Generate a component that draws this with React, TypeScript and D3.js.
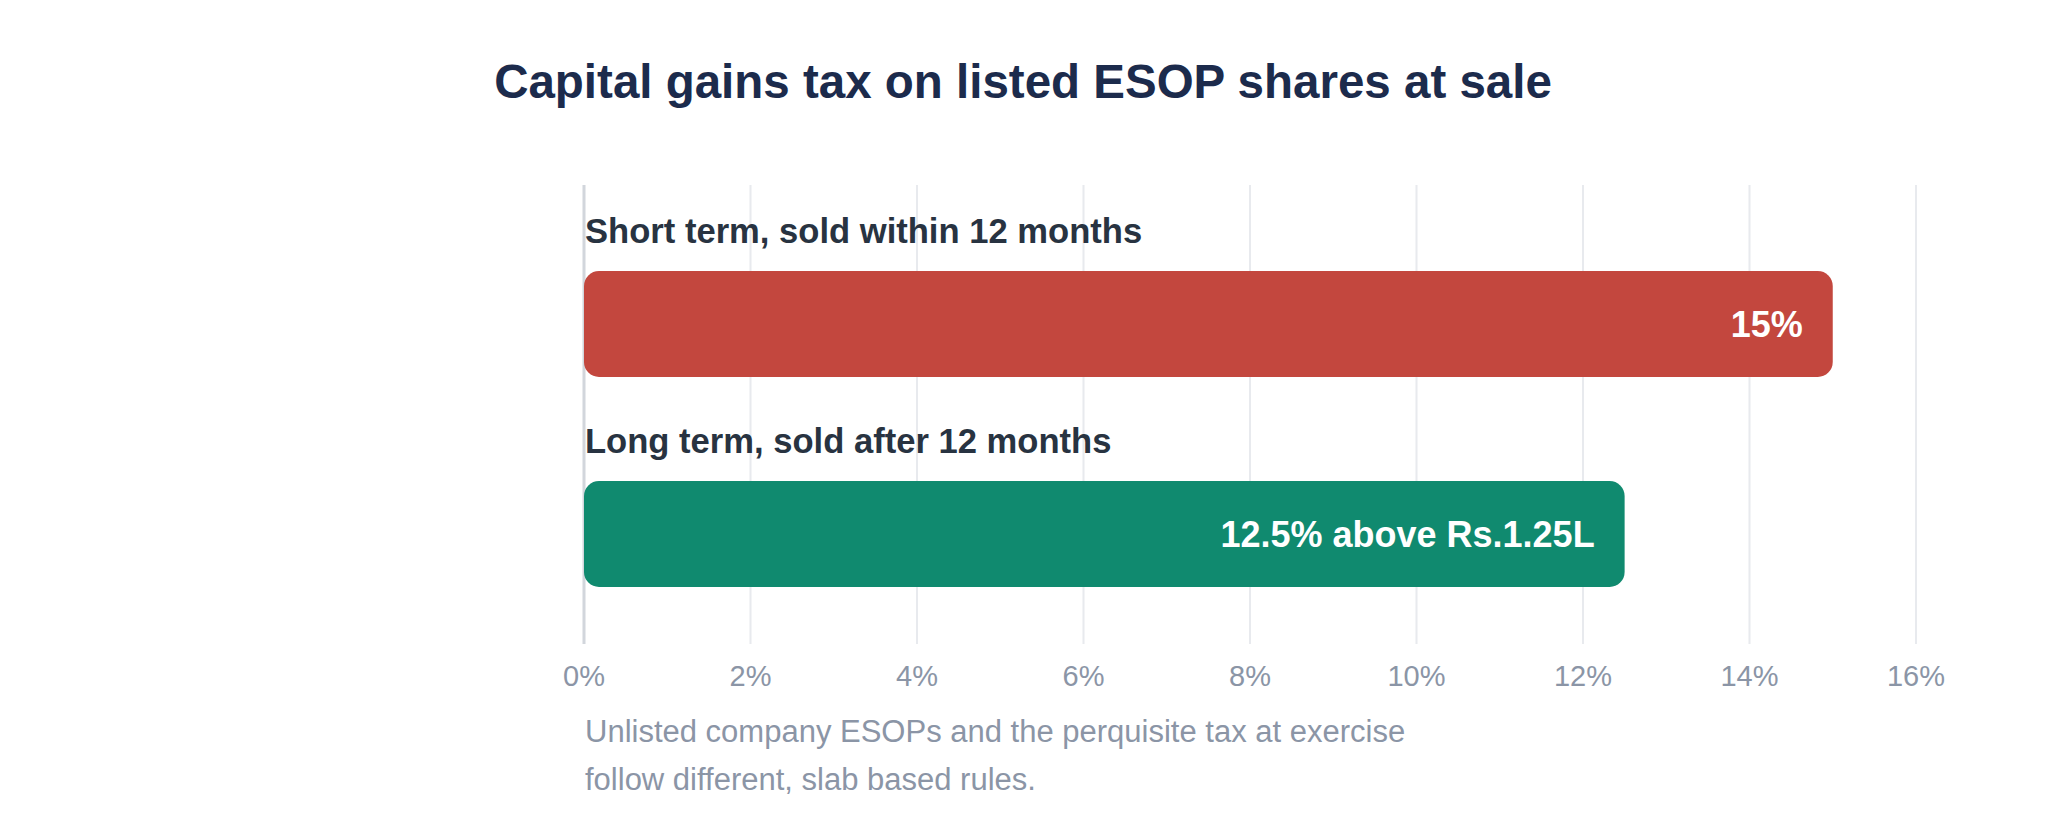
import React from "react";
import * as d3 from "d3";

const title = "Capital gains tax on listed ESOP shares at sale";
const categories = ["Short term, sold within 12 months", "Long term, sold after 12 months"];
const values = [15, 12.5];
const barLabels = ["15%", "12.5% above Rs.1.25L"];
const barColors = ["#c3473e", "#108a6f"];
const axisMax = 16;
const footnoteLines = [
  "Unlisted company ESOPs and the perquisite tax at exercise",
  "follow different, slab based rules.",
];

const W = 2045;
const H = 840;
const FONT = "'Liberation Sans', Arial, Helvetica, sans-serif";

export default function App() {
  const x = d3.scaleLinear().domain([0, axisMax]).range([584, 1916]);
  const y = d3.scaleBand<string>().domain(categories).range([200, 620]).paddingInner(0).paddingOuter(0);
  const ticks = x.ticks(8);
  const barTopOffset = 71;
  const barH = 106;
  const gridTop = 185;
  const gridBottom = 644;

  return (
    <svg
      width={W}
      height={H}
      viewBox={`0 0 ${W} ${H}`}
      style={{ position: "absolute", left: 0, top: 0, display: "block", background: "#ffffff" }}
      fontFamily={FONT}
    >
      <rect x={0} y={0} width={W} height={H} fill="#ffffff" />
      <text x={1023} y={98} textAnchor="middle" fontSize={47.5} fontWeight={700} fill="#1c2b4c">
        {title}
      </text>

      {ticks.map((t) => (
        <line
          key={"g" + t}
          x1={x(t)}
          x2={x(t)}
          y1={gridTop}
          y2={gridBottom}
          stroke={t === 0 ? "#d2d6dc" : "#e8eaee"}
          strokeWidth={t === 0 ? 3 : 2}
        />
      ))}

      {categories.map((c, i) => {
        const top = (y(c) as number) + barTopOffset;
        const x0 = x(0);
        const x1 = x(values[i]);
        return (
          <g key={c}>
            <text x={x0 + 1} y={(y(c) as number) + 43} fontSize={34.6} fontWeight={700} fill="#283341">
              {c}
            </text>
            <rect x={x0} y={top} width={x1 - x0} height={barH} rx={15} ry={15} fill={barColors[i]} />
            <text
              x={x1 - 30}
              y={top + barH / 2 + 13}
              textAnchor="end"
              fontSize={36}
              fontWeight={700}
              fill="#ffffff"
            >
              {barLabels[i]}
            </text>
          </g>
        );
      })}

      {ticks.map((t) => (
        <text key={"t" + t} x={x(t)} y={686} textAnchor="middle" fontSize={29} fill="#8b95a6">
          {d3.format("d")(t) + "%"}
        </text>
      ))}

      {footnoteLines.map((l, i) => (
        <text key={"f" + i} x={585} y={742 + i * 48} fontSize={31} fill="#8b95a6">
          {l}
        </text>
      ))}
    </svg>
  );
}
